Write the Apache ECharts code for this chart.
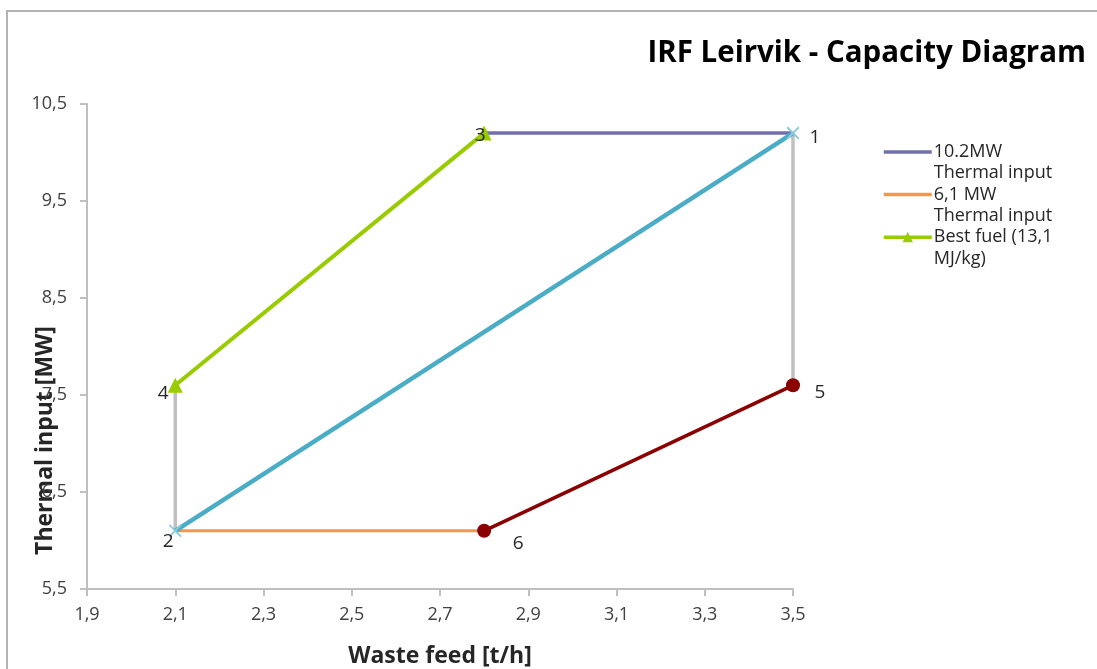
<!DOCTYPE html>
<html>
<head>
<meta charset="utf-8">
<script src="https://cdn.jsdelivr.net/npm/echarts@6/dist/echarts.min.js"></script>
<style>html,body{margin:0;padding:0;background:#fff}#c{width:1097px;height:669px}</style>
</head>
<body>
<div id="c"></div>
<script>
// Capacity diagram corner points [waste feed t/h, thermal input MW, label]
const p1 = [3.5, 10.2, '1'];
const p2 = [2.1, 6.1, '2'];
const p3 = [2.8, 10.2, '3'];
const p4 = [2.1, 7.6, '4'];
const p5 = [3.5, 7.6, '5'];
const p6 = [2.8, 6.1, '6'];

const seriesMax = [p3, p1];          // 10.2MW Thermal input
const seriesMin = [p2, p6];          // 6,1 MW Thermal input
const seriesBest = [p4, p3];         // Best fuel (13,1 MJ/kg)
const seriesDiag = [p2, p1];
const seriesLeft = [p4, p2];
const seriesRight = [p1, p5];
const seriesLow = [p6, p5];

const legendNames = ['10.2MW Thermal input', '6,1 MW Thermal input', 'Best fuel (13,1 MJ/kg)'];
const xTicks = {min: 1.9, max: 3.5, interval: 0.2};
const yTicks = {min: 5.5, max: 10.5, interval: 1};

const FONT = 'Open Sans';
const comma = v => String(Math.round(v * 10) / 10).replace('.', ',');
const xMark = 'path://M0,1L1,0L5,4L9,0L10,1L6,5L10,9L9,10L5,6L1,10L0,9L4,5Z';

function lbl(offset) {
  return {show: true, position: 'inside', offset: offset, formatter: p => p.value[2],
    color: '#262626', fontFamily: FONT, fontSize: 19};
}
function pts(arr, labels) {
  return arr.map((d, i) => ({value: d, label: labels[i]}));
}

const chart = echarts.init(document.getElementById('c'));
chart.setOption({
  animation: false,
  textStyle: {fontFamily: FONT},
  graphic: [{type: 'rect', shape: {x: 7, y: 11, width: 1200, height: 700},
    style: {fill: 'none', stroke: '#b3b3b3', lineWidth: 2}, silent: true}],
  title: {text: 'IRF Leirvik - Capacity Diagram', right: 6, top: 34,
    textStyle: {fontFamily: FONT, fontSize: 29.5, fontWeight: 'bold', color: '#000'}},
  legend: {
    data: [
      {name: legendNames[0], itemStyle: {opacity: 0}},
      {name: legendNames[1], itemStyle: {opacity: 0}},
      {name: legendNames[2]}
    ],
    orient: 'vertical', left: 882, top: 120, padding: 0, itemGap: 0,
    itemWidth: 48, itemHeight: 13,
    lineStyle: {width: 3.5},
    formatter: n => n === legendNames[0] ? '\u00a0\n10.2MW\nThermal input'
                  : n === legendNames[1] ? '6,1 MW'
                  : 'Thermal input\nBest fuel (13,1\nMJ/kg)',
    textStyle: {fontFamily: FONT, fontSize: 18, lineHeight: 21.3, color: '#262626', padding: [0, 0, 0, -3]}
  },
  grid: {left: 87, right: 304, top: 104, bottom: 80, outerBoundsMode: 'none', containLabel: false},
  xAxis: {
    type: 'value', min: xTicks.min, max: xTicks.max, interval: xTicks.interval,
    name: 'Waste feed [t/h]', nameLocation: 'middle', nameGap: 56, nameMoveOverlap: false,
    nameTextStyle: {fontFamily: FONT, fontSize: 23, fontWeight: 'bold', color: '#262626'},
    axisLine: {lineStyle: {color: '#bfbfbf', width: 2}},
    axisTick: {show: true, length: 7, lineStyle: {color: '#bfbfbf', width: 2}},
    axisLabel: {formatter: comma, color: '#404040', fontSize: 18, fontFamily: FONT, margin: 17},
    splitLine: {show: false}
  },
  yAxis: {
    type: 'value', min: yTicks.min, max: yTicks.max, interval: yTicks.interval,
    name: 'Thermal input [MW]', nameLocation: 'middle', nameGap: 30, nameRotate: 90, nameMoveOverlap: false,
    nameTextStyle: {fontFamily: FONT, fontSize: 23, fontWeight: 'bold', color: '#262626', padding: [0, 188, 0, 0]},
    axisLine: {show: true, lineStyle: {color: '#bfbfbf', width: 2}},
    axisTick: {show: true, length: 7, lineStyle: {color: '#bfbfbf', width: 2}},
    axisLabel: {formatter: comma, color: '#404040', fontSize: 18, fontFamily: FONT, margin: 20},
    splitLine: {show: false}
  },
  series: [
    {name: 'gray1', type: 'line', data: seriesLeft, symbol: 'none', z: 1,
      lineStyle: {color: '#bfbfbf', width: 3.5}},
    {name: 'gray2', type: 'line', data: seriesRight, symbol: 'none', z: 1,
      lineStyle: {color: '#bfbfbf', width: 3.5}},
    {name: legendNames[0], type: 'line', data: seriesMax, symbol: 'none', z: 2,
      color: '#7070aa', lineStyle: {color: '#7070aa', width: 3.5}},
    {name: legendNames[1], type: 'line', data: seriesMin, symbol: 'none', z: 2,
      color: '#f79646', lineStyle: {color: '#f79646', width: 3}},
    {name: 'diag', type: 'line', data: pts(seriesDiag, [lbl([-7, 11]), lbl([22, 4])]),
      symbol: xMark, symbolSize: 13, z: 3, color: '#8ccbdc',
      itemStyle: {color: '#8ccbdc'}, lineStyle: {color: '#4bacc6', width: 4.5}},
    {name: legendNames[2], type: 'line', data: pts(seriesBest, [lbl([-12, 8]), lbl([-4, 2])]),
      symbol: 'triangle', symbolSize: 15, z: 4, color: '#99cc00',
      itemStyle: {color: '#99cc00'}, lineStyle: {color: '#99cc00', width: 4}},
    {name: 'low', type: 'line', data: pts(seriesLow, [lbl([34, 13]), lbl([27, 7])]),
      symbol: 'circle', symbolSize: 14, z: 4, color: '#8b0000',
      itemStyle: {color: '#8b0000'}, lineStyle: {color: '#8b0000', width: 3.5}}
  ]
});
</script>
</body>
</html>
